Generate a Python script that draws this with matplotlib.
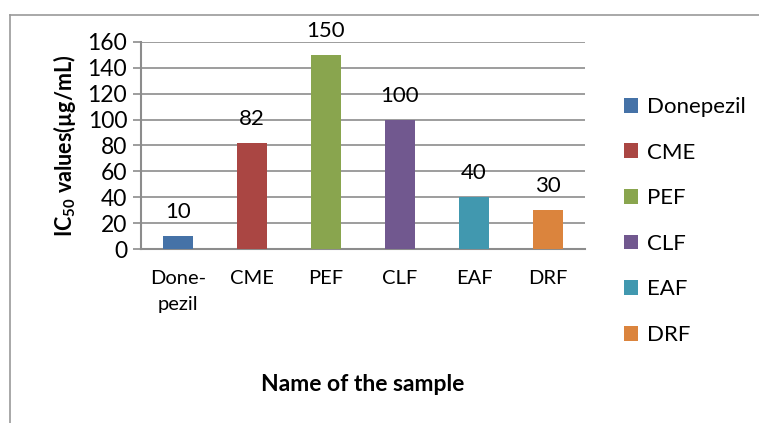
import matplotlib.pyplot as plt
from matplotlib.lines import Line2D

plt.rcParams['font.family'] = ['Lato', 'DejaVu Sans']
plt.rcParams['mathtext.fontset'] = 'custom'
plt.rcParams['mathtext.rm'] = 'Lato'
plt.rcParams['mathtext.bf'] = 'Lato:bold'

# data
categories = ['Donepezil', 'CME', 'PEF', 'CLF', 'EAF', 'DRF']
tick_labels = ['Done-\npezil', 'CME', 'PEF', 'CLF', 'EAF', 'DRF']
ic50_values = [10, 82, 150, 100, 40, 30]
bar_colors = ['#4572A7', '#AA4643', '#89A54E', '#71588F', '#4198AF', '#DB843D']
y_ticks = [0, 20, 40, 60, 80, 100, 120, 140, 160]

grid_color = '#8c8c8c'

fig = plt.figure(figsize=(7.59, 4.23), dpi=100)
ax = fig.add_axes([141 / 759, 1 - 249 / 423, (585 - 141) / 759, (249 - 42) / 423])

x = range(len(categories))
bars = ax.bar(x, ic50_values, width=0.4, color=bar_colors, zorder=3)
ax.bar_label(bars, padding=10, fontsize=16)

ax.set_xlim(-0.5, len(categories) - 0.5)
ax.set_ylim(0, 160)
ax.set_yticks(y_ticks)
ax.set_xticks(list(x))
ax.set_xticklabels(tick_labels, fontsize=14.5, linespacing=1.65)
ax.tick_params(axis='y', labelsize=16.5, length=6, width=1.2, color=grid_color, pad=4)
ax.tick_params(axis='x', length=0, pad=15)
ax.yaxis.grid(True, color=grid_color, linewidth=1.2, zorder=0)
ax.set_axisbelow(True)

for side in ['top', 'right']:
    ax.spines[side].set_visible(False)
for side in ['left', 'bottom']:
    ax.spines[side].set_color(grid_color)
    ax.spines[side].set_linewidth(1.5)

ax.set_ylabel(r'IC$_{\mathbf{50}}$ values(µg/mL)', fontsize=15.5, fontweight='bold', labelpad=7)
ax.set_xlabel('Name of the sample', fontsize=16.5, fontweight='bold', labelpad=44)

fig.legend(bars, categories, loc='center left', bbox_to_anchor=(624 / 759, 1 - 221 / 423),
           frameon=False, fontsize=16, handlelength=0.65, handleheight=0.65,
           handletextpad=0.4, labelspacing=1.15, borderpad=0, borderaxespad=0)

# outer chart border (cut off on right and bottom)
fig.add_artist(Line2D([10 / 759, 1], [1 - 15 / 423, 1 - 15 / 423], color='#9a9a9a', lw=1.2))
fig.add_artist(Line2D([10 / 759, 10 / 759], [0, 1 - 15 / 423], color='#9a9a9a', lw=1.2))

fig.savefig('out.png', dpi=100)
